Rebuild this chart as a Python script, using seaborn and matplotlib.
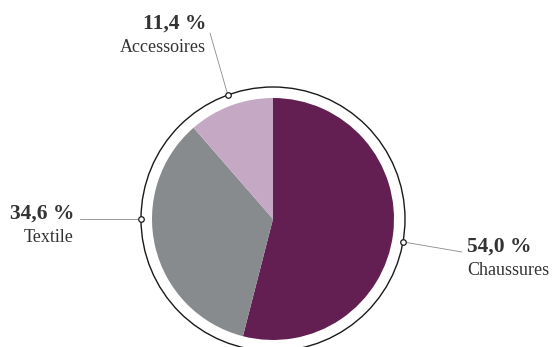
import numpy as np
import matplotlib
matplotlib.use("Agg")
import matplotlib.pyplot as plt
from matplotlib.patches import Circle
import seaborn as sns

# Revenue share by product family
categories = ["Chaussures", "Textile", "Accessoires"]
shares = [54.0, 34.6, 11.4]
value_labels = ["54,0 %", "34,6 %", "11,4 %"]

colors = ["#631f52", "#878b8d", "#c5a9c4"]
text_color = "#333333"

sns.set_theme(style="white")
plt.rcParams["font.family"] = ["Liberation Serif", "DejaVu Serif"]

W, H = 553, 347
fig = plt.figure(figsize=(W / 100, H / 100), dpi=100)
ax = fig.add_axes([0, 0, 1, 1])

cx, cy = 273, H - 219
pie_r, ring_r = 121, 132

ax.pie(shares, colors=colors, startangle=90, counterclock=False,
       center=(cx, cy), radius=pie_r, wedgeprops=dict(linewidth=0),
       frame=True)
ax.set_xlim(0, W)
ax.set_ylim(0, H)
ax.set_aspect("equal")
ax.axis("off")

ax.add_patch(Circle((cx, cy), ring_r, fill=False, edgecolor="#1a1a1a",
                    linewidth=1.0, zorder=3))

# Leader lines: angle on the ring (degrees clockwise from 12 o'clock),
# end point of the line, and text anchor
layout = {
    "Chaussures": dict(angle=100, end=(462, 252), text=(467, 252), ha="left"),
    "Textile": dict(angle=270, end=(80, 219), text=(74, 219), ha="right"),
    "Accessoires": dict(angle=340, end=(210, 33), text=(206, 29), ha="right"),
}

for cat, val in zip(categories, value_labels):
    lay = layout[cat]
    a = np.deg2rad(lay["angle"])
    mx = cx + ring_r * np.sin(a)
    my = cy + ring_r * np.cos(a)
    ex, ey = lay["end"][0], H - lay["end"][1]
    ax.plot([mx, ex], [my, ey], color="#8a8a8a", linewidth=0.6, zorder=2)
    ax.plot(mx, my, marker="o", markersize=4, markerfacecolor="white",
            markeredgecolor="#1a1a1a", markeredgewidth=0.9, zorder=4)
    tx, ty = lay["text"][0], H - lay["text"][1]
    ax.text(tx, ty, val, ha=lay["ha"], va="baseline", fontsize=15.5,
            fontweight="bold", color=text_color)
    ax.text(tx, ty - 23, cat, ha=lay["ha"], va="baseline", fontsize=13,
            color=text_color)

fig.savefig("out.png", dpi=100, facecolor="white")
